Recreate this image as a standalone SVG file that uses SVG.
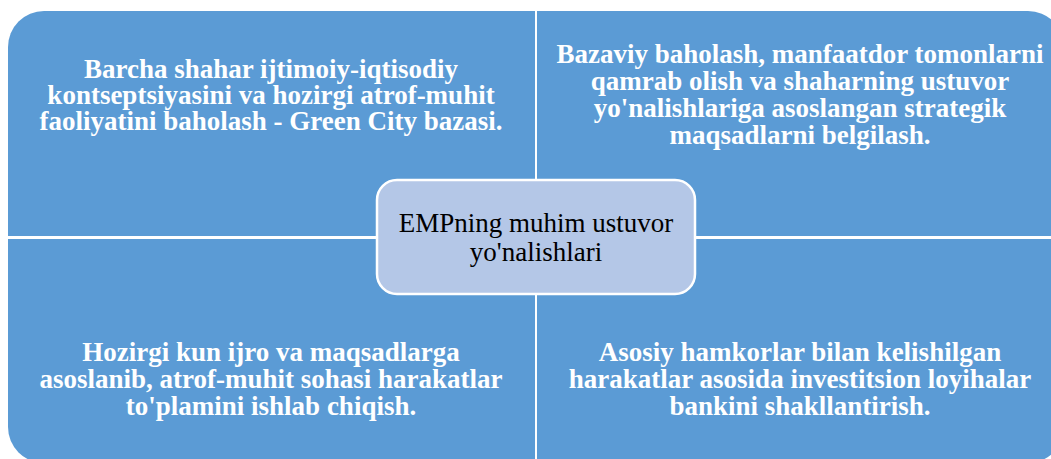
<svg xmlns="http://www.w3.org/2000/svg" width="1051" height="459" viewBox="0 0 1051 459">
<style>
.q{fill:#5B9BD5;}
.qt{font-family:"Liberation Serif","Times New Roman",serif;font-weight:bold;font-size:27px;fill:#FFFFFF;text-anchor:middle;}
.ct{font-family:"Liberation Serif","Times New Roman",serif;font-size:27px;fill:#000000;text-anchor:middle;}
</style>
<rect width="1051" height="459" fill="#FFFFFF"/>
<g id="q-top-left">
<path class="q" d="M8,47 A36,36 0 0 1 44,11 L535,11 L535,236 L8,236 Z"/>
<text class="qt" x="271" y="78">Barcha shahar ijtimoiy-iqtisodiy</text>
<text class="qt" x="271" y="104">kontseptsiyasini va hozirgi atrof-muhit</text>
<text class="qt" x="271" y="130">faoliyatini baholash - Green City bazasi.</text>
</g>
<g id="q-top-right">
<path class="q" d="M537,11 L1028,11 A36,36 0 0 1 1064,47 L1064,236 L537,236 Z"/>
<text class="qt" x="800" y="63">Bazaviy baholash, manfaatdor tomonlarni</text>
<text class="qt" x="800" y="90">qamrab olish va shaharning ustuvor</text>
<text class="qt" x="800" y="117">yo'nalishlariga asoslangan strategik</text>
<text class="qt" x="800" y="144">maqsadlarni belgilash.</text>
</g>
<g id="q-bottom-left">
<path class="q" d="M8,239 L535,239 L535,463 L44,463 A36,36 0 0 1 8,427 Z"/>
<text class="qt" x="271" y="361">Hozirgi kun ijro va maqsadlarga</text>
<text class="qt" x="271" y="388">asoslanib, atrof-muhit sohasi harakatlar</text>
<text class="qt" x="271" y="415">to'plamini ishlab chiqish.</text>
</g>
<g id="q-bottom-right">
<path class="q" d="M537,239 L1064,239 L1064,427 A36,36 0 0 1 1028,463 L537,463 Z"/>
<text class="qt" x="800" y="361">Asosiy hamkorlar bilan kelishilgan</text>
<text class="qt" x="800" y="388">harakatlar asosida investitsion loyihalar</text>
<text class="qt" x="800" y="415">bankini shakllantirish.</text>
</g>
<g id="connectors"></g>
<g id="center">
<rect x="377" y="180" width="318" height="114" rx="20" ry="20" fill="#B4C7E7" stroke="#FFFFFF" stroke-width="2.5"/>
<text class="ct" x="536" y="232">EMPning muhim ustuvor</text>
<text class="ct" x="536" y="261">yo'nalishlari</text>
</g>
</svg>
